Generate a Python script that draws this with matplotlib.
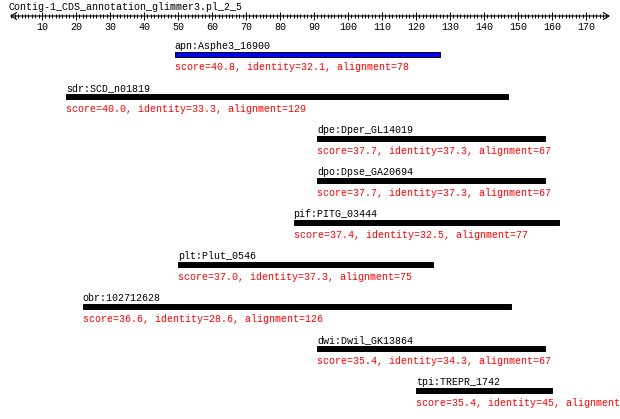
import matplotlib
matplotlib.use('Agg')
import matplotlib.pyplot as plt
from matplotlib.patches import Rectangle

# hit data (positions in sequence units)
title = 'Contig-1_CDS_annotation_glimmer3.pl_2_5'
names = ['apn:Asphe3_16900', 'sdr:SCD_n01819', 'dpe:Dper_GL14019', 'dpo:Dpse_GA20694',
         'pif:PITG_03444', 'plt:Plut_0546', 'obr:102712628', 'dwi:Dwil_GK13864', 'tpi:TREPR_1742']
starts = [49, 17, 91, 91, 84, 50, 22, 91, 120]
ends = [127, 147, 158, 158, 162, 125, 148, 158, 160]
scores = ['40.8', '40.0', '37.7', '37.7', '37.4', '37.0', '36.6', '35.4', '35.4']
identities = ['32.1', '33.3', '37.3', '37.3', '32.5', '37.3', '28.6', '34.3', '45']
# last value is cut off at the right edge in the original
alignments = ['78', '129', '67', '67', '77', '75', '126', '67', None]
bar_colors = ['#0000ff'] + ['#000000'] * 8
major_ticks = list(range(10, 171, 10))

px = 3.4     # pixels per unit
x0 = 8       # pixel of unit 0
FS = 7.2
font = 'Liberation Mono'

fig = plt.figure(figsize=(6.2, 4.19), dpi=100)
ax = fig.add_axes([0, 0, 1, 1])
ax.set_xlim(-x0 / px, (620 - x0) / px)
ax.set_ylim(419, 0)
ax.axis('off')

# title
ax.text(0, 10, title, fontsize=FS, family=font, va='baseline', ha='left')

# ruler
ax.annotate('', xy=((610 - x0) / px, 16), xytext=((10 - x0) / px, 16),
            arrowprops=dict(arrowstyle='<->,head_length=0.4,head_width=0.25',
                            lw=0.8, color='black', shrinkA=0, shrinkB=0))
minor = [t for t in range(1, 177) if t % 10 != 0]
ax.vlines(minor, 14, 18, color='black', lw=0.7)
ax.vlines(major_ticks, 12, 20, color='black', lw=0.7)
for t in major_ticks:
    ax.text(t, 30, str(t), fontsize=FS, family=font, ha='center', va='baseline')

# hits
for i, name in enumerate(names):
    yc = 54.5 + 42 * i
    ax.add_patch(Rectangle((starts[i], yc - 2.2), ends[i] - starts[i], 4.4,
                           facecolor=bar_colors[i], edgecolor='black', lw=0.7))
    ax.text(starts[i], yc - 5.6, name, fontsize=FS, family=font, va='baseline', ha='left')
    info = f'score={scores[i]}, identity={identities[i]}, alignment'
    if alignments[i] is not None:
        info += '=' + alignments[i]
    ax.text(starts[i], yc + 15.6, info, fontsize=FS, family=font, color='#ff0000',
            va='baseline', ha='left')

fig.savefig('out.png', dpi=100)
